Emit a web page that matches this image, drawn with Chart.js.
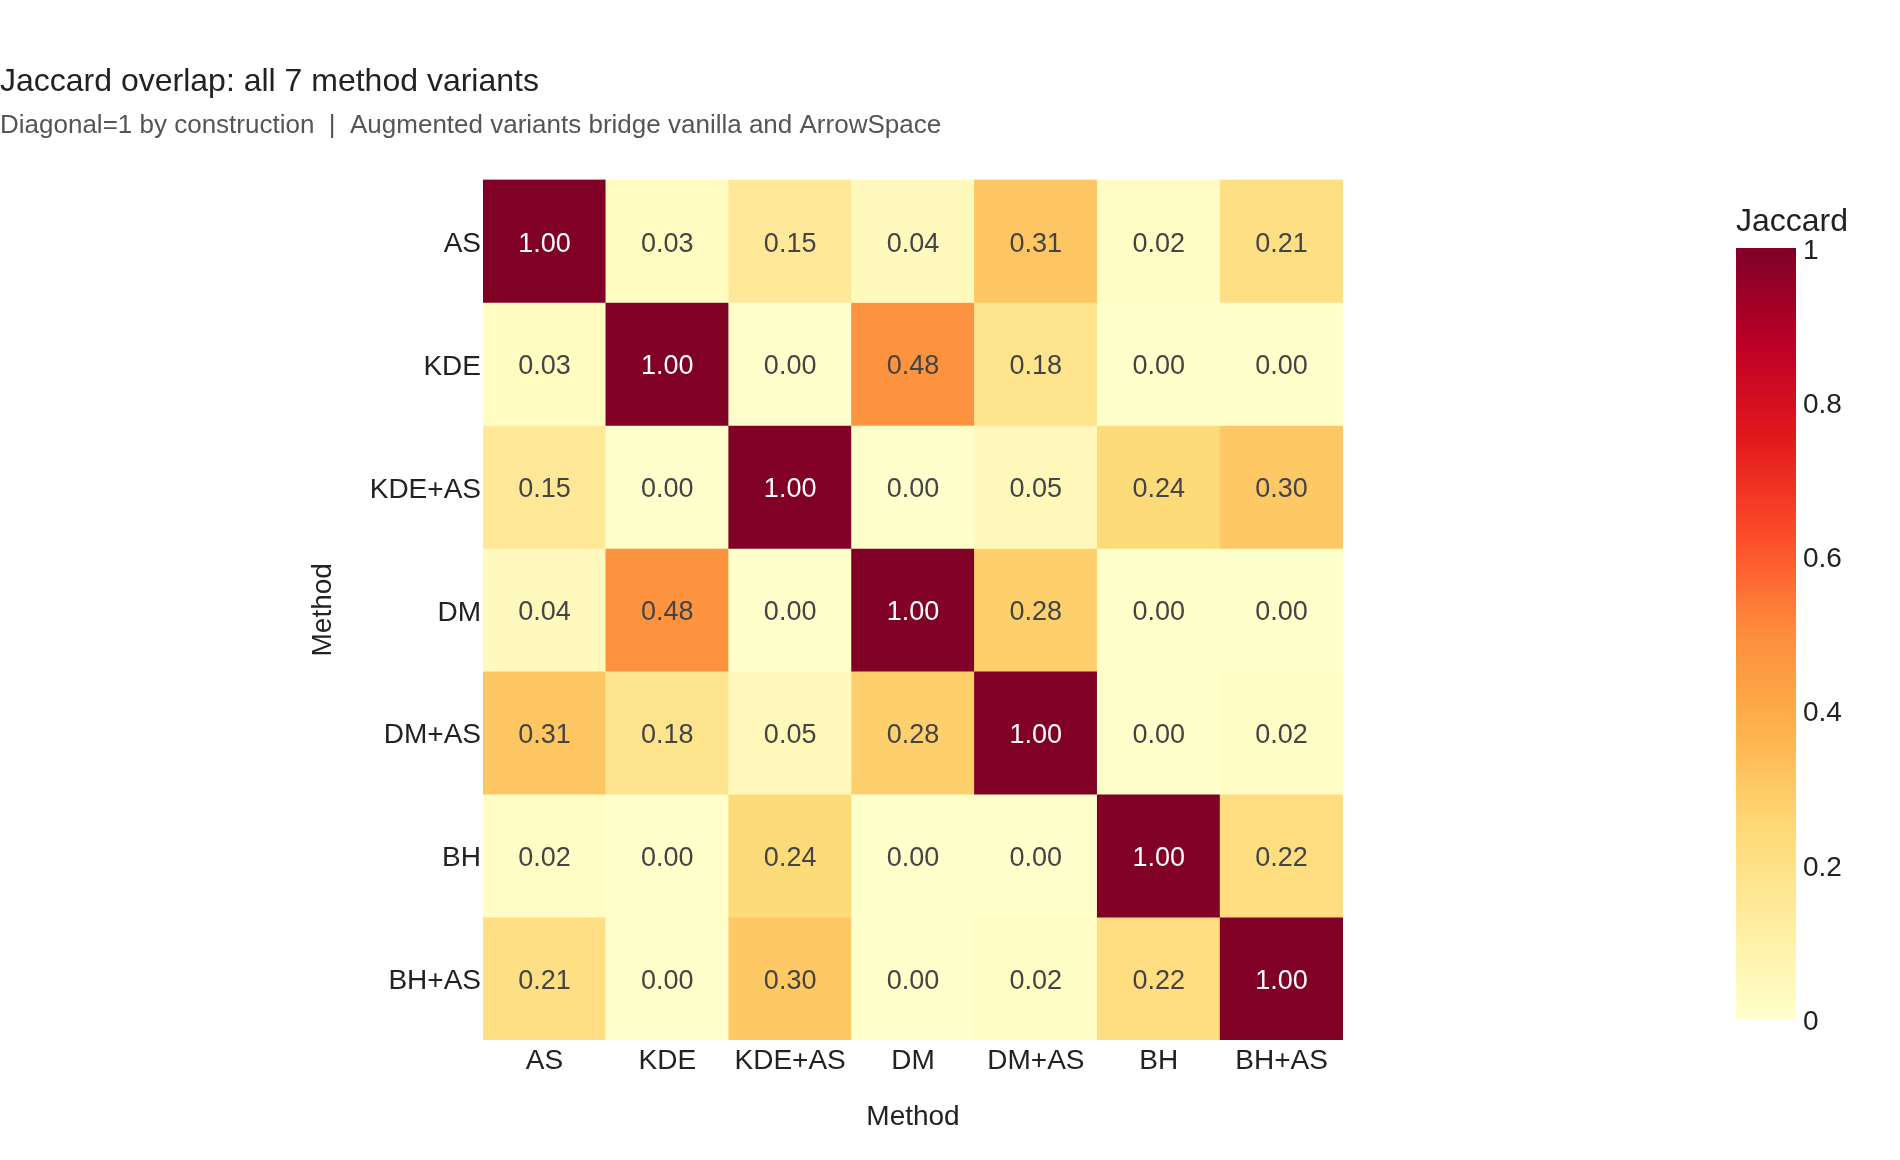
<!DOCTYPE html>
<html lang="en">
<head>
    <meta charset="UTF-8">
    <title>Jaccard overlap: all 7 method variants</title>
    <script src="https://cdn.jsdelivr.net/npm/chart.js"></script>
    <style>
        html, body { margin: 0; padding: 0; background: #fff; }
    </style>
</head>
<body>
<canvas id="heatmap" width="1900" height="1160"></canvas>

<script>
    // methods on both axes (rows top -> bottom, columns left -> right)
    const methods = ['AS', 'KDE', 'KDE+AS', 'DM', 'DM+AS', 'BH', 'BH+AS'];

    // Jaccard values, one array per row
    const rowAS    = [1.00, 0.03, 0.15, 0.04, 0.31, 0.02, 0.21];
    const rowKDE   = [0.03, 1.00, 0.00, 0.48, 0.18, 0.00, 0.00];
    const rowKDEAS = [0.15, 0.00, 1.00, 0.00, 0.05, 0.24, 0.30];
    const rowDM    = [0.04, 0.48, 0.00, 1.00, 0.28, 0.00, 0.00];
    const rowDMAS  = [0.31, 0.18, 0.05, 0.28, 1.00, 0.00, 0.02];
    const rowBH    = [0.02, 0.00, 0.24, 0.00, 0.00, 1.00, 0.22];
    const rowBHAS  = [0.21, 0.00, 0.30, 0.00, 0.02, 0.22, 1.00];
    const matrix = [rowAS, rowKDE, rowKDEAS, rowDM, rowDMAS, rowBH, rowBHAS];

    // colorbar ticks
    const cbTicks = [0, 0.2, 0.4, 0.6, 0.8, 1];
    const cbTickLabels = ['0', '0.2', '0.4', '0.6', '0.8', '1'];

    // YlOrRd colour scale
    const ylOrRd = [
        [255, 255, 204], [255, 237, 160], [254, 217, 118], [254, 178, 76], [253, 141, 60],
        [252, 78, 42], [227, 26, 28], [189, 0, 38], [128, 0, 38]
    ];

    function colorAt(v) {
        const t = Math.max(0, Math.min(1, v)) * (ylOrRd.length - 1);
        const i = Math.min(Math.floor(t), ylOrRd.length - 2);
        const f = t - i;
        const a = ylOrRd[i], b = ylOrRd[i + 1];
        const c = a.map((x, k) => Math.round(x + (b[k] - x) * f));
        return `rgb(${c[0]},${c[1]},${c[2]})`;
    }

    const FONT = "'Liberation Sans', Arial, Helvetica, sans-serif";
    Chart.defaults.font.family = FONT;
    Chart.defaults.color = '#222';

    // one floating-bar dataset per row: spans [r, r+1] on the y axis
    const datasets = matrix.map((row, r) => ({
        label: methods[r],
        data: row.map(() => [r, r + 1]),
        backgroundColor: row.map(colorAt),
        borderWidth: 0,
        barPercentage: 1,
        categoryPercentage: 1,
        grouped: false
    }));

    // value labels in the cells
    const cellText = {
        id: 'cellText',
        afterDatasetsDraw(chart) {
            const ctx = chart.ctx;
            ctx.save();
            ctx.font = `27px ${FONT}`;
            ctx.textAlign = 'center';
            ctx.textBaseline = 'middle';
            chart.data.datasets.forEach((ds, r) => {
                chart.getDatasetMeta(r).data.forEach((bar, c) => {
                    const v = matrix[r][c];
                    ctx.fillStyle = v > 0.5 ? '#ffffff' : '#444444';
                    ctx.fillText(v.toFixed(2), bar.x, (bar.y + bar.base) / 2 + 3);
                });
            });
            ctx.restore();
        }
    };

    // colour bar on the right
    const colorbar = {
        id: 'colorbar',
        afterDraw(chart) {
            const ctx = chart.ctx;
            const left = 1736, right = 1796, top = 248, bottom = 1019;
            const g = ctx.createLinearGradient(0, bottom, 0, top);
            ylOrRd.forEach((c, i) => g.addColorStop(i / (ylOrRd.length - 1), `rgb(${c})`));
            ctx.save();
            ctx.fillStyle = g;
            ctx.fillRect(left, top, right - left, bottom - top);
            ctx.font = `28px ${FONT}`;
            ctx.fillStyle = '#222';
            ctx.textAlign = 'left';
            ctx.textBaseline = 'middle';
            cbTicks.forEach((v, i) => {
                ctx.fillText(cbTickLabels[i], right + 7, bottom - v * (bottom - top) + 3);
            });
            ctx.font = `32px ${FONT}`;
            ctx.textBaseline = 'alphabetic';
            ctx.fillText('Jaccard', left, 231);
            ctx.restore();
        }
    };

    new Chart(document.getElementById('heatmap'), {
        type: 'bar',
        data: { labels: methods, datasets: datasets },
        plugins: [cellText, colorbar],
        options: {
            responsive: false,
            animation: false,
            layout: { padding: { left: 0, right: 557, top: 0, bottom: 0 } },
            plugins: {
                legend: { display: false },
                tooltip: { enabled: false },
                title: {
                    display: true,
                    text: 'Jaccard overlap: all 7 method variants',
                    align: 'start',
                    color: '#222',
                    font: { size: 32, weight: 'normal' },
                    padding: { top: 63, bottom: 0 }
                },
                subtitle: {
                    display: true,
                    text: 'Diagonal=1 by construction  |  Augmented variants bridge vanilla and ArrowSpace',
                    align: 'start',
                    color: '#555',
                    font: { size: 26, weight: 'normal' },
                    padding: { top: 9, bottom: 38 }
                }
            },
            scales: {
                x: {
                    type: 'category',
                    grid: { display: false, drawTicks: false },
                    border: { display: false },
                    ticks: { padding: 4, font: { size: 28 }, color: '#222', autoSkip: false, maxRotation: 0 },
                    title: { display: true, text: 'Method', color: '#222', font: { size: 28 }, padding: { top: 0, bottom: 26 } },
                    afterFit(s) { s.height = 120; }
                },
                y: {
                    type: 'linear',
                    min: 0,
                    max: 7,
                    reverse: true,
                    grid: { display: false, drawTicks: false },
                    border: { display: false },
                    afterBuildTicks(s) { s.ticks = methods.map((m, i) => ({ value: i + 0.5 })); },
                    ticks: { padding: 2, labelOffset: 3, font: { size: 28 }, color: '#222', autoSkip: false, callback: (v, i) => methods[i] },
                    title: { display: true, text: 'Method', color: '#222', font: { size: 28 }, padding: { top: 306, bottom: 0 } },
                    afterFit(s) { s.width = 483; }
                }
            }
        }
    });
</script>
</body>
</html>
